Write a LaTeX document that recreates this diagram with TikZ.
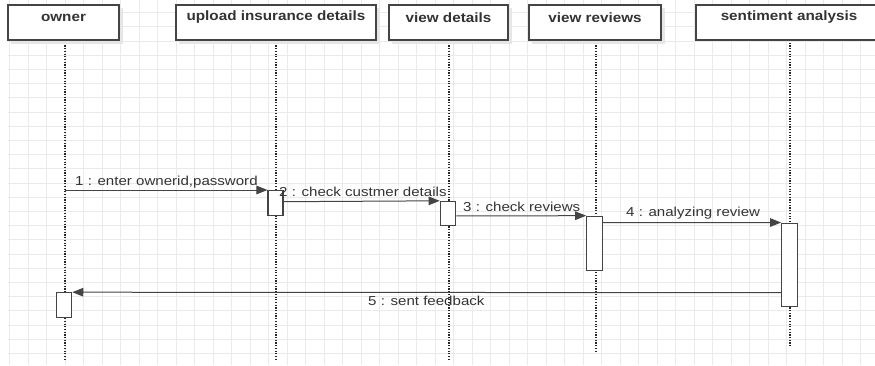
\documentclass[tikz,border=0pt]{standalone}
\usepackage{fontspec}
\setmainfont{Liberation Sans}
\usetikzlibrary{arrows.meta}
\definecolor{gridc}{HTML}{EAEAEA}
\definecolor{linec}{HTML}{444444}
\definecolor{txtc}{HTML}{333333}
\definecolor{shadc}{HTML}{E6E6E6}
\tikzset{
  hdr/.style={draw=linec, line width=1.2pt, fill=white, anchor=north west, inner sep=0pt},
  hdrtext/.style={font=\bfseries\fontsize{13.5}{15}\selectfont, text=txtc, anchor=center, xscale=1.13},
  life/.style={draw=black!85, line width=1.2pt, dash pattern=on 1.2pt off 1.5pt},
  act/.style={draw=linec, line width=1.1pt, fill=white},
  msg/.style={draw=linec, line width=1pt, -{Triangle[length=11pt,width=8.5pt]}},
  lbl/.style={font=\fontsize{13}{14}\selectfont, text=txtc, inner sep=0pt, xscale=1.16}
}
\begin{document}
\begin{tikzpicture}[x=1pt,y=-1pt]
\useasboundingbox (0,0) rectangle (875,365);
\clip (0,0) rectangle (875,365);
% grid
\foreach \i in {0,...,46} {
  \draw[gridc, line width=0.6pt] (9.3+18.5*\i,0) -- (9.3+18.5*\i,365);
}
\foreach \j in {0,...,25} {
  \draw[gridc, line width=0.6pt] (8,12.4+14.2*\j) -- (875,12.4+14.2*\j);
}
% lifelines
\coordinate (l1t) at (65,40);  \coordinate (l1b) at (65,361);
\coordinate (l2t) at (276,40); \coordinate (l2b) at (276,360);
\coordinate (l3t) at (449,40); \coordinate (l3b) at (449,360);
\coordinate (l4t) at (596,40); \coordinate (l4b) at (596,352);
\coordinate (l5t) at (790,40); \coordinate (l5b) at (790,347);
\draw[life] (l1t) -- (l1b);
\draw[life] (l2t) -- (l2b);
\draw[life] (l3t) -- (l3b);
\draw[life] (l4t) -- (l4b);
\draw[life] (l5t) -- (l5b);
% header shadows
\fill[shadc] (11,8) rectangle (123,44);
\fill[shadc] (179,8) rectangle (380,44);
\fill[shadc] (392,8) rectangle (512,44);
\fill[shadc] (532,8) rectangle (665,44);
% headers
\draw[hdr] (8,5) rectangle (119,40);
\draw[hdr] (176,5) rectangle (376,40);
\draw[hdr] (389,5) rectangle (508,40);
\draw[hdr] (529,5) rectangle (661,40);
\draw[hdr] (696,5) rectangle (880,40);
\node[hdrtext] (h1) at (63.5,17.5) {owner};
\node[hdrtext] (h2) at (276,17.5) {upload insurance details};
\node[hdrtext] (h3) at (448.5,17.5) {view details};
\node[hdrtext] (h4) at (595,17.5) {view reviews};
\node[hdrtext] (h5) at (789,17.5) {sentiment analysis};
% activations
\node[act, minimum width=15pt, minimum height=25pt, anchor=north, inner sep=0pt] (a2) at (275.5,189.5) {};
\node[act, minimum width=15.5pt, minimum height=24.5pt, anchor=north, inner sep=0pt] (a3) at (448,200.8) {};
\node[act, minimum width=15.5pt, minimum height=54.5pt, anchor=north, inner sep=0pt] (a4) at (594.5,215.7) {};
\node[act, minimum width=16pt, minimum height=83.5pt, anchor=north, inner sep=0pt] (a5) at (789.7,222.5) {};
\node[act, minimum width=15pt, minimum height=24.5pt, anchor=north, inner sep=0pt] (a1) at (64.2,292.2) {};
% messages
\coordinate (m1s) at (65,190);
\draw[msg] (m1s) -- (a2.north west |- m1s);
\draw[msg] (a2.east |- 0,201.7) -- (a3.north west);
\draw[msg] (a3.east |- 0,215.9) -- (a4.north west);
\draw[msg] (a4.east |- 0,222.7) -- (a5.north west);
\draw[msg] (a5.west |- 0,292.7) -- (a1.north east);
% labels
\node[lbl, anchor=west] (t1) at (75,182) {1 : enter ownerid,password};
\node[lbl, anchor=west] (t2) at (279,192) {2 : check custmer details};
\node[lbl, anchor=west] (t3) at (463,206.5) {3 : check reviews};
\node[lbl, anchor=west] (t4) at (626,213.5) {4 : analyzing review};
\node[lbl, anchor=west] (t5) at (368,300.5) {5 : sent feedback};
\end{tikzpicture}
\end{document}
